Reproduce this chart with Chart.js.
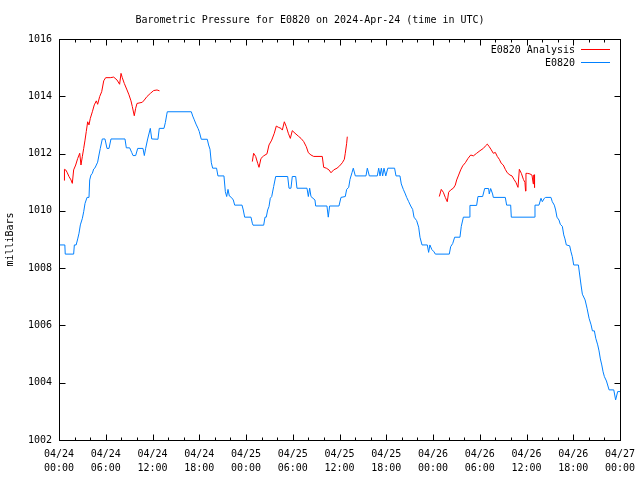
<!DOCTYPE html>
<html>
<head>
<meta charset="utf-8">
<script src="https://cdn.jsdelivr.net/npm/chart.js@4"></script>
<style>
  html, body { margin: 0; padding: 0; background: #fff; }
</style>
</head>
<body>
<canvas id="pressureChart" width="640" height="480"></canvas>
<script>
// hours since 2024-04-24 00:00 UTC
const stationHours = [
  0, 0.75, 0.8, 1.88, 1.97, 2.2, 2.4, 2.57, 2.74, 3.0, 3.17, 3.34, 3.6, 3.85, 3.94, 4.1, 4.28, 4.45, 4.62, 4.79,
  4.96, 5.13, 5.3, 5.56, 5.9, 6.16, 6.42, 6.67, 8.47, 8.64, 9.07, 9.33, 9.5, 9.84, 10.1, 10.78, 10.95, 11.12, 11.38, 11.72,
  11.9, 12.7, 12.87, 13.47, 13.65, 13.82, 13.9, 16.98, 17.16, 17.33, 17.58, 17.84, 18.0, 18.26, 19.03, 19.2, 19.38, 19.55, 19.72, 20.22,
  20.4, 21.17, 21.35, 21.52, 21.69, 21.86, 22.12, 22.37, 22.55, 23.49, 23.65, 23.83, 24.64, 24.81, 24.9, 26.27, 26.44, 26.6, 26.78, 26.95,
  27.12, 27.3, 27.55, 27.81, 29.35, 29.52, 29.77, 29.94, 30.38, 30.54, 31.83, 32.0, 32.17, 32.34, 32.85, 32.94, 34.39, 34.56, 34.73, 35.93,
  36.19, 36.74, 36.92, 37.18, 37.35, 37.6, 37.77, 38.03, 39.4, 39.57, 39.83, 40.85, 41.03, 41.2, 41.37, 41.54, 41.71, 41.94, 42.2, 43.07,
  43.25, 43.76, 43.93, 44.19, 44.45, 44.62, 44.88, 45.14, 45.39, 45.56, 45.9, 46.16, 46.33, 46.59, 47.27, 47.44, 47.6, 47.85, 48.13, 48.3,
  50.09, 50.27, 50.53, 50.78, 51.46, 51.63, 51.9, 52.67, 52.74, 53.6, 53.77, 54.37, 54.63, 55.14, 55.22, 55.4, 55.65, 55.74, 57.28, 57.45,
  57.97, 58.05, 61.0, 61.09, 61.6, 61.86, 62.03, 62.29, 62.46, 63.14, 63.31, 63.57, 63.74, 63.91, 64.17, 64.34, 64.6, 64.78, 64.94, 65.11,
  65.54, 65.71, 65.88, 66.06, 66.66, 66.83, 67.0, 67.17, 67.52, 67.77, 68.03, 68.29, 68.46, 68.71, 68.89, 69.14, 69.31, 69.48, 69.66, 69.83,
  70.0, 70.26, 70.6, 71.2, 71.44, 71.7, 72
];
const stationValues = [
  1008.81, 1008.81, 1008.49, 1008.49, 1008.81, 1008.81, 1009.02, 1009.22, 1009.51, 1009.74, 1009.97, 1010.26, 1010.47, 1010.47, 1011.08, 1011.25, 1011.31, 1011.46, 1011.5, 1011.6,
  1011.7, 1011.95, 1012.18, 1012.51, 1012.51, 1012.18, 1012.18, 1012.51, 1012.51, 1012.2, 1012.2, 1012.04, 1011.93, 1011.93, 1012.18, 1012.18, 1011.93, 1012.18, 1012.51, 1012.88,
  1012.51, 1012.5, 1012.88, 1012.88, 1013.08, 1013.35, 1013.46, 1013.46, 1013.31, 1013.2, 1013.03, 1012.88, 1012.77, 1012.5, 1012.5, 1012.3, 1012.15, 1011.68, 1011.49, 1011.49,
  1011.22, 1011.22, 1010.67, 1010.5, 1010.75, 1010.52, 1010.47, 1010.38, 1010.2, 1010.2, 1010.03, 1009.78, 1009.78, 1009.57, 1009.5, 1009.5, 1009.78, 1009.78, 1010.03, 1010.15,
  1010.44, 1010.5, 1010.85, 1011.2, 1011.2, 1010.79, 1010.79, 1011.2, 1011.2, 1010.79, 1010.79, 1010.5, 1010.79, 1010.5, 1010.38, 1010.17, 1010.17, 1009.78, 1010.17, 1010.17,
  1010.47, 1010.5, 1010.75, 1010.82, 1011.1, 1011.33, 1011.49, 1011.22, 1011.22, 1011.49, 1011.22, 1011.22, 1011.49, 1011.22, 1011.49, 1011.22, 1011.49, 1011.22, 1011.49, 1011.49,
  1011.22, 1011.22, 1010.94, 1010.75, 1010.59, 1010.47, 1010.32, 1010.17, 1010.05, 1009.78, 1009.66, 1009.43, 1009.08, 1008.81, 1008.81, 1008.55, 1008.81, 1008.65, 1008.57, 1008.49,
  1008.49, 1008.75, 1008.86, 1009.08, 1009.08, 1009.46, 1009.78, 1009.78, 1010.19, 1010.19, 1010.5, 1010.5, 1010.78, 1010.78, 1010.59, 1010.78, 1010.59, 1010.47, 1010.47, 1010.2,
  1010.2, 1009.78, 1009.78, 1010.2, 1010.2, 1010.44, 1010.32, 1010.44, 1010.47, 1010.47, 1010.32, 1010.2, 1010.03, 1009.78, 1009.68, 1009.53, 1009.46, 1009.16, 1009.02, 1008.81,
  1008.78, 1008.57, 1008.4, 1008.11, 1008.11, 1007.76, 1007.41, 1007.09, 1006.89, 1006.6, 1006.25, 1006.02, 1005.81, 1005.81, 1005.55, 1005.32, 1005.11, 1004.83, 1004.62, 1004.38,
  1004.21, 1004.06, 1003.75, 1003.75, 1003.4, 1003.69, 1003.69
];

// analysis series, null marks a gap between runs
const analysisHours = [
  0.68, 0.7, 0.86, 1.03, 1.28, 1.54, 1.71, 1.88, 2.14, 2.4, 2.66, 2.82, 2.99, 3.17, 3.34, 3.5, 3.68, 3.85, 4.02, 4.28,
  4.53, 4.79, 4.96, 5.22, 5.48, 5.74, 5.99, 6.58, 7.02, 7.44, 7.78, 7.96, 8.12, 8.38, 8.73, 8.98, 9.24, 9.41, 9.66, 9.84,
  10.01, 10.69, 10.95, 11.29, 11.72, 12.15, 12.58, 12.9,
  18,
  24.81, 24.98, 25.24, 25.5, 25.67, 25.92, 26.27, 26.69, 26.95, 27.3, 27.63, 27.89, 28.14, 28.49, 28.66, 28.92, 29.17, 29.43, 29.69, 29.94,
  30.29, 30.71, 31.06, 31.4, 31.74, 32.0, 32.34, 32.69, 33.79, 33.97, 34.31, 34.65, 34.91, 35.25, 35.68, 36.02, 36.36, 36.62, 36.74, 36.92, 37.0,
  42,
  48.81, 49.06, 49.32, 49.58, 49.83, 50.01, 50.27, 50.61, 50.86, 51.04, 51.29, 51.55, 51.81, 52.15, 52.49, 52.84, 53.18, 53.6, 54.03, 54.46,
  54.71, 54.97, 55.22, 55.48, 55.74, 56.0, 56.25, 56.51, 56.76, 57.02, 57.28, 57.53, 57.88, 58.14, 58.39, 58.65, 58.91, 59.08, 59.34, 59.6,
  59.8, 59.88, 59.93, 60.1, 60.44, 60.7, 60.87, 60.92, 61.0, 61.02, 61.05
];
const analysisValues = [
  1011.06, 1011.45, 1011.43, 1011.35, 1011.2, 1011.08, 1010.96, 1011.43, 1011.6, 1011.83, 1012.01, 1011.6, 1011.89, 1012.18, 1012.47, 1012.77, 1013.11, 1013.0, 1013.23, 1013.46,
  1013.7, 1013.84, 1013.72, 1013.99, 1014.16, 1014.54, 1014.65, 1014.65, 1014.67, 1014.57, 1014.42, 1014.8, 1014.65, 1014.45, 1014.22, 1014.05, 1013.84, 1013.64, 1013.32, 1013.58,
  1013.75, 1013.79, 1013.87, 1013.99, 1014.1, 1014.2, 1014.22, 1014.19,
  null,
  1011.72, 1012.01, 1011.9, 1011.66, 1011.52, 1011.83, 1011.92, 1011.99, 1012.3, 1012.47, 1012.71, 1012.96, 1012.92, 1012.88, 1012.82, 1013.11, 1012.94, 1012.71, 1012.53, 1012.8,
  1012.71, 1012.61, 1012.53, 1012.42, 1012.24, 1012.03, 1011.95, 1011.9, 1011.9, 1011.52, 1011.49, 1011.43, 1011.33, 1011.43, 1011.49, 1011.57, 1011.68, 1011.8, 1012.01, 1012.36, 1012.59,
  null,
  1010.5, 1010.75, 1010.65, 1010.47, 1010.32, 1010.65, 1010.73, 1010.79, 1010.9, 1011.08, 1011.25, 1011.43, 1011.57, 1011.68, 1011.83, 1011.95, 1011.92, 1012.01, 1012.1, 1012.18,
  1012.26, 1012.33, 1012.24, 1012.13, 1012.01, 1012.04, 1011.9, 1011.8, 1011.66, 1011.6, 1011.45, 1011.33, 1011.25, 1011.22, 1011.1, 1010.99, 1010.82, 1011.45, 1011.31, 1011.1,
  1010.99, 1010.69, 1011.31, 1011.31, 1011.29, 1011.25, 1010.94, 1011.25, 1011.25, 1010.81, 1011.27
];

const xTickLabels = [
  ["04/24", "00:00"], ["04/24", "06:00"], ["04/24", "12:00"], ["04/24", "18:00"],
  ["04/25", "00:00"], ["04/25", "06:00"], ["04/25", "12:00"], ["04/25", "18:00"],
  ["04/26", "00:00"], ["04/26", "06:00"], ["04/26", "12:00"], ["04/26", "18:00"],
  ["04/27", "00:00"]
];

const FONT = "'DejaVu Sans Mono', monospace";
const RED = "#ff0000";
const BLUE = "#0080ff";

function toPoints(hours, values) {
    return hours.map((h, i) => ({ x: h, y: values[i] }));
}

// gnuplot style: frame, inward ticks on all four sides, legend in top right corner
const gnuFrame = {
    id: "gnuFrame",
    afterDraw(chart) {
        const { ctx, chartArea: a, scales } = chart;
        const L = Math.round(a.left) + 0.5, R = Math.round(a.right) + 0.5;
        const T = Math.round(a.top) + 0.5, B = Math.round(a.bottom) + 0.5;

        ctx.save();
        ctx.strokeStyle = "#000";
        ctx.lineWidth = 1;
        ctx.strokeRect(L, T, R - L, B - T);

        ctx.beginPath();
        for (let h = 0; h <= 72; h += 2) {
            const px = Math.round(scales.x.getPixelForValue(h)) + 0.5;
            const len = h % 6 === 0 ? 6 : 3;
            ctx.moveTo(px, B); ctx.lineTo(px, B - len);
            ctx.moveTo(px, T); ctx.lineTo(px, T + len);
        }
        for (let v = 1002; v <= 1016; v += 2) {
            const py = Math.round(scales.y.getPixelForValue(v)) + 0.5;
            ctx.moveTo(L, py); ctx.lineTo(L + 6, py);
            ctx.moveTo(R, py); ctx.lineTo(R - 6, py);
        }
        ctx.stroke();

        ctx.font = "10px " + FONT;
        ctx.fillStyle = "#000";
        ctx.textAlign = "right";
        ctx.textBaseline = "middle";
        chart.data.datasets.forEach((ds, i) => {
            const y = 49 + i * 13;
            ctx.fillText(ds.label, 575, y + 1);
            ctx.strokeStyle = ds.borderColor;
            ctx.beginPath();
            ctx.moveTo(581, y + 0.5);
            ctx.lineTo(610, y + 0.5);
            ctx.stroke();
        });
        ctx.restore();
    }
};

new Chart(document.getElementById("pressureChart"), {
    type: "line",
    data: {
        datasets: [
            {
                label: "E0820 Analysis",
                data: toPoints(analysisHours, analysisValues),
                borderColor: RED,
                borderWidth: 1,
                pointRadius: 0,
                spanGaps: false,
                tension: 0
            },
            {
                label: "E0820",
                data: toPoints(stationHours, stationValues),
                borderColor: BLUE,
                borderWidth: 1,
                pointRadius: 0,
                tension: 0
            }
        ]
    },
    options: {
        responsive: false,
        animation: false,
        devicePixelRatio: 1,
        layout: { padding: { top: 0, right: 20, left: 0, bottom: 0 } },
        plugins: {
            legend: { display: false },
            tooltip: { enabled: false },
            title: {
                display: true,
                text: "Barometric Pressure for E0820 on 2024-Apr-24 (time in UTC)",
                color: "#000",
                font: { family: FONT, size: 10, weight: "normal" },
                padding: { top: 14, bottom: 13 }
            }
        },
        scales: {
            x: {
                type: "linear",
                min: 0,
                max: 72,
                grid: { display: false },
                border: { display: false },
                ticks: {
                    stepSize: 6,
                    autoSkip: false,
                    maxRotation: 0,
                    padding: -1,
                    color: "#000",
                    font: { family: FONT, size: 10, lineHeight: 1.4 },
                    callback: (v) => xTickLabels[Math.round(v / 6)]
                },
                afterFit: (s) => { s.height = 40; }
            },
            y: {
                min: 1002,
                max: 1016,
                grid: { display: false },
                border: { display: false },
                ticks: {
                    stepSize: 2,
                    padding: -1,
                    color: "#000",
                    font: { family: FONT, size: 10 },
                    callback: (v) => String(v)
                },
                title: {
                    display: true,
                    text: "milliBars",
                    color: "#000",
                    font: { family: FONT, size: 10 },
                    padding: { top: 4, bottom: 4 }
                },
                afterFit: (s) => { s.width = 59; }
            }
        }
    },
    plugins: [gnuFrame]
});
</script>
</body>
</html>
